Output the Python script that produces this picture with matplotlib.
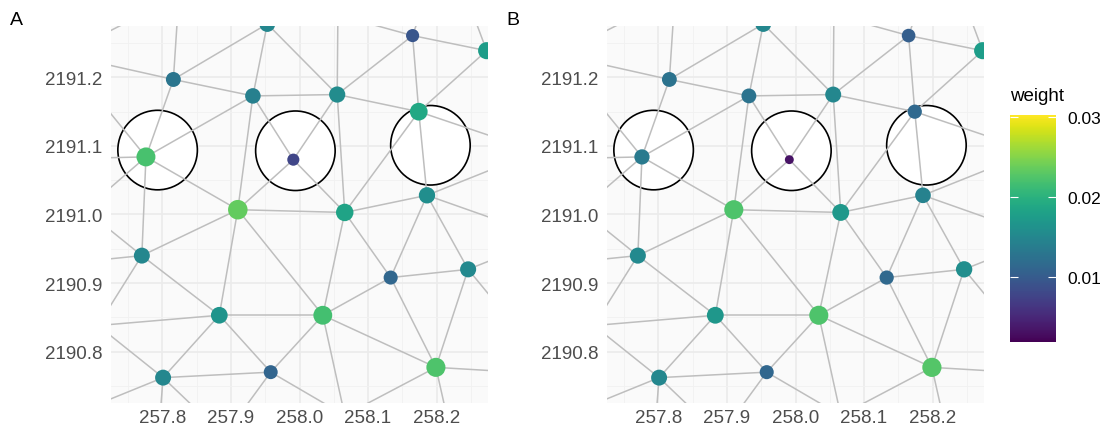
import matplotlib.pyplot as plt
import matplotlib as mpl
from matplotlib.collections import LineCollection
from matplotlib.patches import Circle

plt.rcParams['font.family'] = ['Liberation Sans', 'DejaVu Sans']

# sample locations inside the window (p1 .. p20)
x = [257.953, 258.165, 258.273, 257.816, 257.932, 258.055, 258.174, 257.776, 257.991, 258.186,
     257.910, 258.066, 257.770, 258.133, 258.246, 257.883, 258.034, 257.801, 257.958, 258.199]
y = [2191.278, 2191.261, 2191.239, 2191.197, 2191.173, 2191.175, 2191.150, 2191.084, 2191.080, 2191.028,
     2191.007, 2191.003, 2190.940, 2190.908, 2190.920, 2190.853, 2190.853, 2190.762, 2190.770, 2190.777]

# weights for panel A and panel B
weight_a = [0.0150, 0.0095, 0.0175, 0.0129, 0.0141, 0.0155, 0.0189, 0.0220, 0.0078, 0.0158,
            0.0234, 0.0183, 0.0150, 0.0112, 0.0152, 0.0166, 0.0217, 0.0150, 0.0110, 0.0223]
weight_b = [0.0150, 0.0104, 0.0175, 0.0127, 0.0127, 0.0150, 0.0115, 0.0135, 0.0033, 0.0143,
            0.0223, 0.0170, 0.0152, 0.0115, 0.0158, 0.0169, 0.0223, 0.0150, 0.0112, 0.0226]

# neighbours just outside the window, only used for the mesh edges
x_out = [257.655, 257.824, 257.687, 257.636, 257.622, 257.706, 257.651, 257.794, 257.890, 258.066,
         258.219, 258.346, 258.362, 258.321, 258.350, 258.056, 258.176, 258.254]
y_out = [2191.233, 2191.319, 2191.007, 2191.081, 2190.925, 2190.838, 2190.701, 2190.673, 2190.677, 2190.707,
         2190.688, 2191.092, 2190.966, 2190.829, 2190.768, 2191.291, 2191.293, 2191.290]

# mesh edges, index pairs into x + x_out
edges = [(0, 3), (0, 4), (0, 5), (1, 5), (1, 2), (1, 6), (2, 6), (3, 4), (3, 7),
         (4, 5), (4, 7), (4, 10), (4, 8), (5, 6), (5, 8), (5, 11), (6, 9), (6, 11),
         (7, 10), (7, 12), (8, 10), (8, 11), (9, 11), (9, 13), (9, 14),
         (10, 11), (10, 12), (10, 15), (10, 16), (11, 16), (11, 13), (12, 15),
         (13, 14), (13, 16), (13, 19), (14, 19), (15, 16), (15, 17), (15, 18),
         (16, 18), (16, 19), (17, 18),
         (20, 21), (21, 3), (20, 3), (20, 7), (23, 7), (22, 7), (22, 12), (24, 12),
         (25, 12), (25, 15), (25, 17), (26, 17), (27, 17), (28, 17), (28, 18),
         (29, 18), (29, 16), (29, 19), (30, 19), (34, 19), (33, 14), (32, 14),
         (32, 9), (31, 9), (31, 6), (35, 5), (35, 1), (36, 1), (37, 2)]

# circles
circle_x = [257.793, 257.994, 258.191]
circle_y = [2191.094, 2191.093, 2191.101]
circle_r = 0.058

x_ticks = [257.8, 257.9, 258.0, 258.1, 258.2]
y_ticks = [2190.8, 2190.9, 2191.0, 2191.1, 2191.2]

W, H = 1105, 427
fig = plt.figure(figsize=(W / 100, H / 100), dpi=100)

norm = mpl.colors.Normalize(vmin=0.0019, vmax=0.0302)
cmap = plt.get_cmap('viridis')


def draw_panel(left, weights, tag):
    ax = fig.add_axes([left / W, (H - 404) / H, 377 / W, 377 / H])
    ax.set_facecolor('#FAFAFA')
    ax.set_xlim(257.725, 258.275)
    ax.set_ylim(2190.725, 2191.275)
    ax.set_xticks(x_ticks)
    ax.set_xticklabels([f"{v:.1f}" for v in x_ticks])
    ax.set_yticks(y_ticks)
    ax.set_yticklabels([f"{v:.1f}" for v in y_ticks])
    ax.set_xticks([v + 0.05 for v in x_ticks] + [257.75], minor=True)
    ax.set_yticks([v + 0.05 for v in y_ticks] + [2190.75], minor=True)
    ax.set_axisbelow(True)
    ax.grid(which='major', color='#EBEBEB', lw=1.2)
    ax.grid(which='minor', color='#F1F1F1', lw=0.6)
    ax.tick_params(which='both', length=0, labelsize=13.5, labelcolor='#4D4D4D')
    ax.tick_params(axis='x', pad=4)
    ax.tick_params(axis='y', pad=6)
    for s in ax.spines.values():
        s.set_visible(False)

    for cx, cy in zip(circle_x, circle_y):
        ax.add_patch(Circle((cx, cy), circle_r, facecolor='white', edgecolor='black', lw=1.2, zorder=2))

    xs = x + x_out
    ys = y + y_out
    segs = [[(xs[i], ys[i]), (xs[j], ys[j])] for i, j in edges]
    ax.add_collection(LineCollection(segs, colors='#BEBEBE', linewidths=1.1, zorder=3))

    sizes = [0.5184 * (30 + 15000 * w) for w in weights]
    ax.scatter(x, y, s=sizes, c=weights, cmap=cmap, norm=norm, linewidths=0, zorder=4)

    fig.text((left - 101) / W, 1 - 25 / H, tag, fontsize=14, va='baseline', ha='left')
    return ax


draw_panel(111, weight_a, 'A')
draw_panel(607, weight_b, 'B')

# colourbar
cax = fig.add_axes([1010 / W, (H - 343) / H, 46 / W, 227 / H])
cb = fig.colorbar(mpl.cm.ScalarMappable(norm=norm, cmap=cmap), cax=cax)
cb.outline.set_visible(False)
cb.set_ticks([0.01, 0.02, 0.03])
cb.set_ticklabels(['0.01', '0.02', '0.03'])
cax.yaxis.set_ticks_position('both')
cax.tick_params(direction='in', color='white', length=6, width=0.8, labelsize=12.5, pad=8,
                labelright=True, labelleft=False)
fig.text(1010 / W, 1 - 101 / H, 'weight', fontsize=13.5, va='baseline', ha='left')

fig.savefig('out.png', dpi=100)
